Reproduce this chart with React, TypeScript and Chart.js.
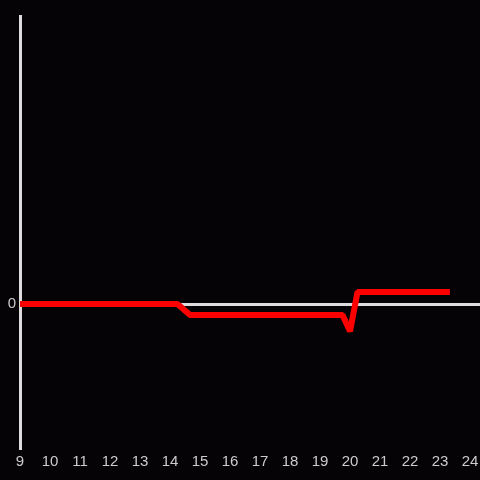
import React, { useEffect, useRef } from "react";
import { Chart, registerables } from "chart.js";

Chart.register(...registerables);

const xValues = [9, 14.25, 14.67, 19.75, 20.0, 20.25, 23.33];
const yValues = [0, 0, -0.076, -0.076, -0.19, 0.083, 0.083];
const xTickMin = 9;
const xTickMax = 24;
const yZero = [0];

export default function App() {
  const ref = useRef<HTMLCanvasElement>(null);
  useEffect(() => {
    document.body.style.margin = "0";
    document.body.style.background = "#050306";
    const bg = {
      id: "bg",
      beforeDraw(chart: any) {
        const c = chart.ctx;
        c.save();
        c.fillStyle = "#050306";
        c.fillRect(0, 0, chart.width, chart.height);
        c.restore();
      },
    };
    const chart = new Chart(ref.current!, {
      type: "line",
      data: {
        datasets: [
          {
            data: xValues.map((x, i) => ({ x, y: yValues[i] })),
            borderColor: "#ff0000",
            borderWidth: 6,
            borderJoinStyle: "bevel",
            pointRadius: 0,
            tension: 0,
            fill: false,
          },
        ],
      },
      options: {
        responsive: false,
        animation: false,
        layout: { padding: { top: 16, right: 0, left: 0, bottom: 0 } },
        plugins: { legend: { display: false }, tooltip: { enabled: false } },
        scales: {
          x: {
            type: "linear",
            min: xTickMin,
            max: 24.333,
            afterBuildTicks: (axis: any) => {
              const t = [];
              for (let v = xTickMin; v <= xTickMax; v++) t.push({ value: v });
              axis.ticks = t;
            },
            afterFit: (s: any) => {
              s.height = 32;
              s.paddingLeft = 0;
              s.paddingRight = 0;
            },
            grid: { display: false, drawTicks: false },
            border: { display: false },
            ticks: {
              color: "#cccccc",
              font: { family: "'Liberation Sans', Arial, sans-serif", size: 15 },
              padding: 5,
              maxRotation: 0,
              autoSkip: false,
            },
          },
          y: {
            type: "linear",
            min: -1,
            max: 2,
            afterBuildTicks: (axis: any) => {
              axis.ticks = yZero.map((v) => ({ value: v }));
            },
            afterFit: (s: any) => {
              s.width = 20;
              s.paddingTop = 0;
              s.paddingBottom = 0;
            },
            grid: {
              color: "#dddddd",
              lineWidth: 3,
              drawTicks: false,
            },
            border: { display: true, color: "#dddddd", width: 3 },
            ticks: {
              color: "#cccccc",
              font: { family: "'Liberation Sans', Arial, sans-serif", size: 15 },
              padding: 4,
            },
          },
        },
      },
      plugins: [bg],
    });
    return () => chart.destroy();
  }, []);
  return <canvas ref={ref} width={480} height={480} style={{ display: "block" }} />;
}
